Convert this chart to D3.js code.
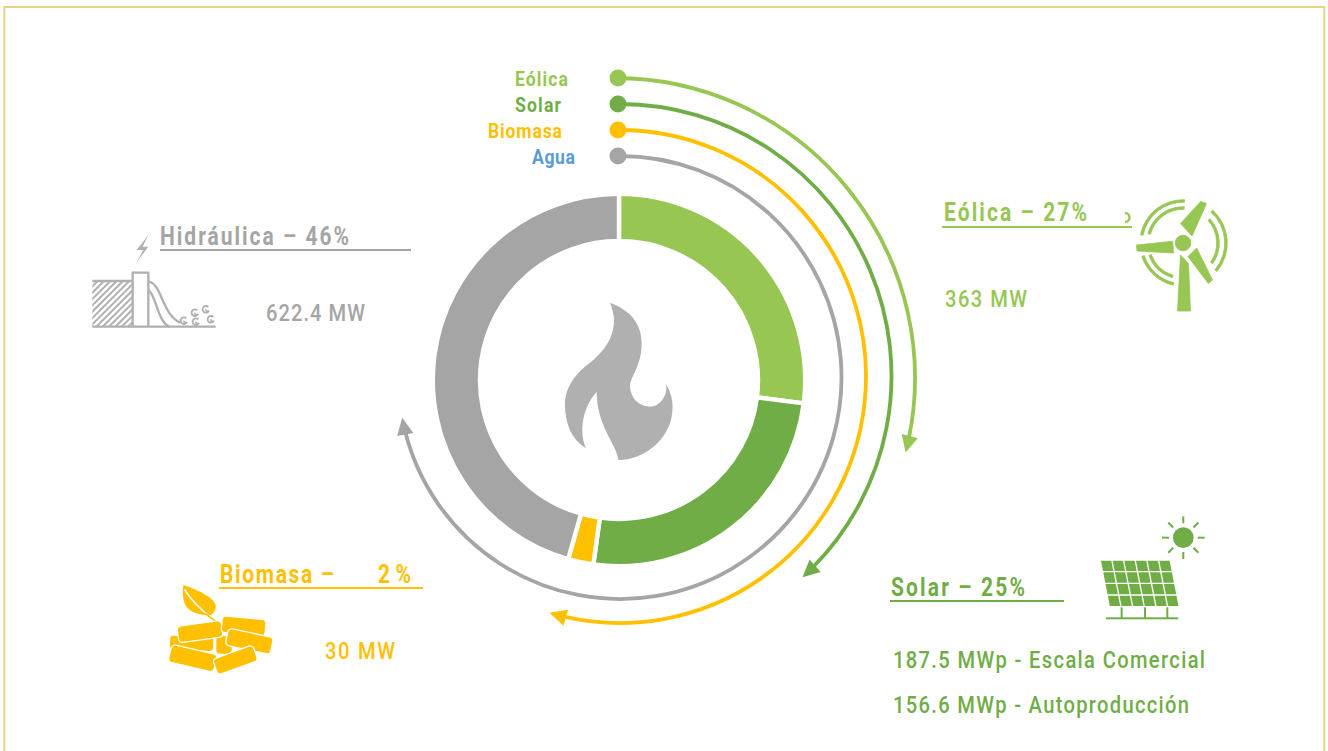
<!DOCTYPE html>
<html><head><meta charset="utf-8">
<script src="https://cdn.jsdelivr.net/npm/d3@7"></script>
<style>html,body{margin:0;padding:0;background:#fff;overflow:hidden}svg{display:block}text{font-family:"Roboto",sans-serif}</style>
</head><body><svg id="c" width="1328" height="751"></svg>
<script>
// ---- data ----
const sources = ["Eólica","Solar","Biomasa","Agua"];
const shares = [27,25.2,2.2,45.6];
const headers = ["Eólica – 27%","Solar – 25%","Biomasa –","2%","Hidráulica – 46%"];
const capacity = ["363 MW","187.5 MWp - Escala Comercial","156.6 MWp - Autoproducción","30 MW","622.4 MW"];
// ---- style / layout ----
const colors = ["#97c653","#70ad47","#ffc000","#a5a5a5"];
const svg = d3.select("#c");
const cx=619, cy=380;
svg.append("rect").attr("x",4.3).attr("y",7).attr("width",1320).attr("height",770).attr("fill","none").attr("stroke","#e8d283").attr("stroke-width",2);

// donut
const pie = d3.pie().sort(null).value(d=>d);
const arc = d3.arc().innerRadius(139).outerRadius(186.2);
svg.append("g").attr("transform",`translate(${cx},${cy})`).selectAll("path").data(pie(shares)).join("path")
  .attr("d",arc).attr("fill",(d,i)=>colors[i]).attr("stroke","#fff").attr("stroke-width",4.4);

// flame
svg.append("path").attr("transform","translate(540,280) scale(.3333)").attr("fill","#b0b0b0")
 .attr("d","M210 68C270 90 305 130 305 190C305 260 270 290 270 320C275 365 305 378 330 380C360 380 385 345 378 312C395 340 400 370 397 395C390 480 310 540 235 540C230 490 170 440 170 335C130 380 115 450 138 505C95 480 75 430 75 375C75 310 120 270 160 240C210 195 240 140 210 68Z");

// labels: a condensed Roboto with open tracking stands in for the DIN-like face
const squeeze=.84;
function label(t,x,y,w,c,fs,fw){
  svg.append("text").text(t).attr("transform",`translate(${x},${y}) scale(${squeeze},1)`)
    .attr("font-size",fs).attr("font-weight",fw).attr("fill",c)
    .attr("textLength",w/squeeze).attr("lengthAdjust","spacing");
}
function rule(x1,x2,y,c){svg.append("line").attr("x1",x1).attr("x2",x2).attr("y1",y).attr("y2",y).attr("stroke",c).attr("stroke-width",2);}

// legend rings
const ringC=[[615,378],[619.5,376],[619.5,376.5],[620,377.5]];
const ringR=[300,272,246.5,221.5], ringEnd=[104.4,137.7,196.5,259.5];
const dotY=[78,104,130,156];
const legendX=[515,515,488,532], legendW=[53,46,74,43], legendColor=["#97c653","#70ad47","#ffc000","#5b9bd5"];
const rad=d=>d*Math.PI/180;
sources.forEach((s,i)=>{
  const r=ringR[i], a=rad(ringEnd[i]);
  const g=svg.append("g").attr("transform",`translate(${ringC[i]})`);
  g.append("path").attr("fill","none").attr("stroke",colors[i]).attr("stroke-width",3.8)
    .attr("d",d3.arc().innerRadius(r).outerRadius(r).startAngle(0).endAngle(a-15/r)());
  g.append("path").attr("fill",colors[i])
    .attr("transform",`translate(${r*Math.sin(a)},${-r*Math.cos(a)}) rotate(${ringEnd[i]})`)
    .attr("d","M0 0L-17 -8.3L-17 8.3Z");
  svg.append("circle").attr("cx",618).attr("cy",dotY[i]).attr("r",8.5).attr("fill",colors[i]);
  label(s,legendX[i],86+26*i,legendW[i],legendColor[i],21,700);
});

// headers & capacities
label(headers[0],944,221,143,colors[0],25,700); rule(942,1132,227,colors[0]);
label(headers[1],891,596,134,colors[1],25,700); rule(890,1064,601,colors[1]);
label(headers[2],220,583,114,colors[2],25,700);
label(headers[3],378,583,33,colors[2],25,700); rule(219,423,588,colors[2]);
label(headers[4],160,245,189,colors[3],25,700); rule(160,411,250,colors[3]);
label(capacity[0],945,307,82,colors[0],24,500);
label(capacity[1],893,668,312,colors[1],24,500);
label(capacity[2],893,713,296,colors[1],24,500);
label(capacity[3],325,659,70,colors[2],24,500);
label(capacity[4],266,321,99,colors[3],24,500);

// wind icon
const wind=svg.append("g").attr("fill",colors[0]).attr("stroke",colors[0]).attr("stroke-width",.8);
[[[1200.7,201.5],[1206.5,203.5],[1192,236],[1180.5,223.5]],
 [[1136.5,245],[1172.7,241.2],[1173.5,253],[1137,251]],
 [[1196.7,248],[1212.5,280],[1208.3,283.5],[1188,256.5]],
 [[1180.5,255],[1188.5,263.5],[1190.5,311],[1177.5,311]]].forEach(p=>wind.append("path").attr("d",d3.line()(p)+"Z"));
wind.append("circle").attr("cx",1183).attr("cy",243).attr("r",7.8);
[[42,-79,2],[35,-75,2],[43,42,130],[35,48,125],[42,193,252],[35,197,250]].forEach(([r,a,b])=>{
  wind.append("path").attr("transform","translate(1183,243)")
   .attr("d",d3.arc().innerRadius(r-1.3).outerRadius(r+1.3).startAngle(rad(a)).endAngle(rad(b))());
});
svg.append("path").attr("d","M1125 213A4.5 4.5 0 0 1 1125 222").attr("fill","none").attr("stroke",colors[0]).attr("stroke-width",2.4);

// hydro icon (drawn in 3x reference units)
const hg=svg.append("g").attr("transform","translate(80,210) scale(.3333)");
const grey="#b0b0b0";
hg.append("path").attr("fill",grey).attr("d","M205 75L170 120L190 120L168 160L205 110L188 110Z");
svg.append("clipPath").attr("id","hatchClip").append("rect").attr("x",37).attr("y",213).attr("width",120).attr("height",137);
const hatch=hg.append("g").attr("clip-path","url(#hatchClip)").attr("stroke",grey).attr("stroke-width",6);
d3.range(0,14).forEach(i=>{const x=37+i*19;
  hatch.append("line").attr("x1",x-140).attr("y1",350).attr("x2",x).attr("y2",210);});
const hy=hg.append("g").attr("fill","none").attr("stroke",grey).attr("stroke-width",7);
hy.append("path").attr("d","M37 213H158M37 350H407M158 350V188H205V350");
hy.append("path").attr("d","M205 215C245 218 245 312 300 338");
hy.append("path").attr("d","M205 240C228 252 232 335 268 350");
[[312,332],[345,308],[348,335],[378,298],[393,328]].forEach(([x,y])=>{
  hy.append("path").attr("stroke-width",5.5).attr("d",`M${x+9} ${y+4}A10 10 0 1 1 ${x+7} ${y-7}M${x+9} ${y+4}A5 5 0 0 1 ${x} ${y}`);
});

// biomass icon
const bio=svg.append("g").attr("transform","translate(150,560) scale(.3333)").attr("fill",colors[2]);
bio.append("path").attr("d","M100 75C130 85 188 108 197 135C198 150 192 160 182 165C150 166 118 158 106 135C97 115 97 95 100 75Z");
bio.append("path").attr("d","M104 88C125 125 160 155 195 182").attr("fill","none").attr("stroke","#fff").attr("stroke-width",5);
bio.append("path").attr("d","M165 160L197 184").attr("fill","none").attr("stroke",colors[2]).attr("stroke-width",5);
[[125,250,134,44,3],[222,255,50,56,0],[150,215,134,50,-8],[281,198,132,50,5],[298,244,138,52,12],[128,295,140,54,13],[256,300,128,50,-20]].forEach(([x,y,w,h,a])=>{
  bio.append("rect").attr("x",-w/2).attr("y",-h/2).attr("width",w).attr("height",h).attr("rx",12)
    .attr("transform",`translate(${x},${y}) rotate(${a})`).attr("stroke","#fff").attr("stroke-width",4);
});

// solar icon
const sol=svg.append("g").attr("transform","translate(880,510) scale(.3333)").attr("fill",colors[1]);
sol.append("circle").attr("cx",910).attr("cy",83).attr("r",31);
d3.range(8).forEach(i=>{const a=rad(i*45);
  sol.append("line").attr("x1",910+43*Math.sin(a)).attr("y1",83-43*Math.cos(a)).attr("x2",910+64*Math.sin(a)).attr("y2",83-64*Math.cos(a)).attr("stroke",colors[1]).attr("stroke-width",6);});
d3.range(4).forEach(r=>d3.range(6).forEach(c=>{
  const y0=152+r*35,y1=y0+31, x=(y)=>663+(y-152)*0.196+c*35;
  sol.append("path").attr("d",d3.line()([[x(y0),y0],[x(y0)+31,y0],[x(y1)+31,y1],[x(y1),y1]])+"Z");
}));
[725,795,862].forEach(x=>sol.append("rect").attr("x",x-3).attr("y",292).attr("width",6).attr("height",34));
sol.append("rect").attr("x",678).attr("y",322).attr("width",217).attr("height",6);
</script></body></html>
